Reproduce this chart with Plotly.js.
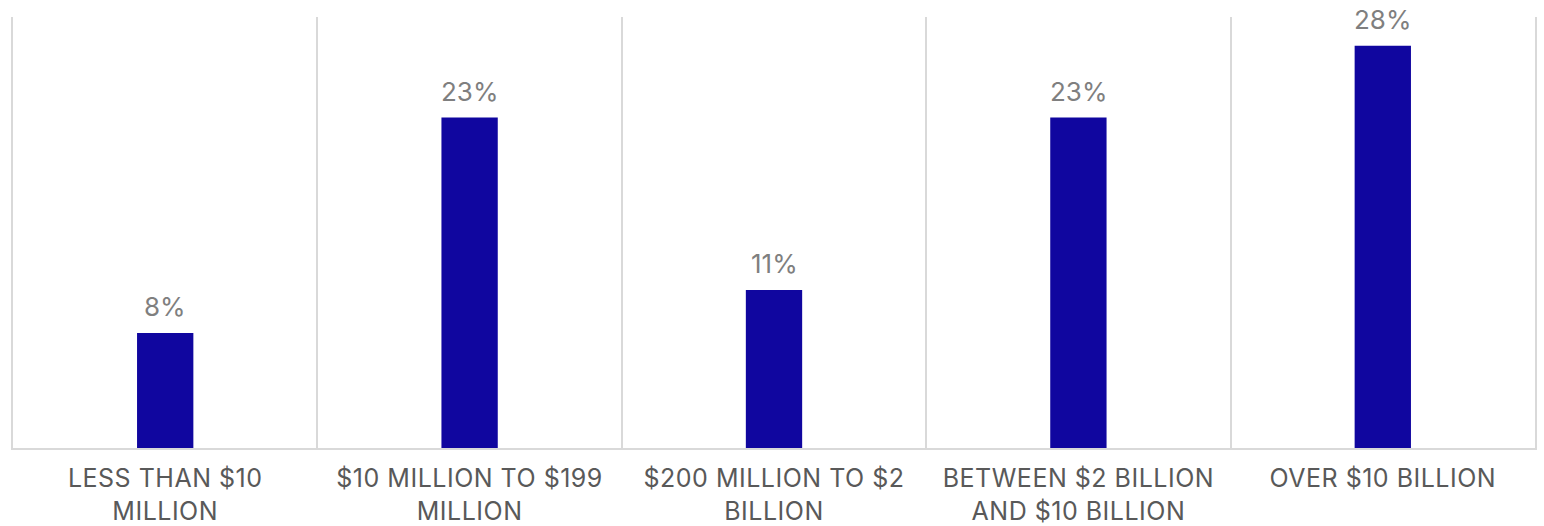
<!DOCTYPE html>
<html>
<head>
<meta charset="utf-8">
<script src="https://cdn.plot.ly/plotly-3.0.1.min.js"></script>
<style>
html,body{margin:0;padding:0;background:#fff;}
#chart{width:1544px;height:526px;}
#chart .xtick text{letter-spacing:0.5px;}
</style>
</head>
<body>
<div id="chart"></div>
<script>
const categories = [
  "LESS THAN $10<br>MILLION",
  "$10 MILLION TO $199<br>MILLION",
  "$200 MILLION TO $2<br>BILLION",
  "BETWEEN $2 BILLION<br>AND $10 BILLION",
  "OVER $10 BILLION"
];
const values = [8, 23, 11, 23, 28];
const valueLabels = values.map(v => v + "%");

const FONT = "Inter, 'Open Sans', sans-serif";

const trace = {
  type: "bar",
  x: categories,
  y: values,
  marker: {color: "#10069F"},
  hoverinfo: "none"
};

const annotations = categories.map((c, i) => ({
  x: c, y: values[i], xref: "x", yref: "y",
  text: valueLabels[i], showarrow: false,
  yanchor: "bottom", yshift: 9,
  font: {family: FONT, size: 26, color: "#7f7f7f"}
}));

const layout = {
  width: 1544, height: 526,
  margin: {l: 13, r: 9, t: 17, b: 78, pad: 0},
  paper_bgcolor: "#fff", plot_bgcolor: "#fff",
  bargap: 0.815,
  showlegend: false,
  font: {family: FONT, color: "#595959"},
  annotations: annotations,
  xaxis: {
    type: "category",
    tickson: "boundaries",
    showgrid: true, gridcolor: "#d9d9d9", gridwidth: 2,
    showline: true, linecolor: "#d9d9d9", linewidth: 2,
    ticks: "", ticklabelstandoff: 7,
    tickfont: {family: FONT, size: 25, color: "#595959"},
    fixedrange: true
  },
  yaxis: {
    range: [0, 30],
    showgrid: false, zeroline: false,
    showticklabels: false, ticks: "",
    showline: true, linecolor: "#d9d9d9", linewidth: 2, mirror: true,
    fixedrange: true
  }
};

Plotly.newPlot("chart", [trace], layout, {displayModeBar: false, staticPlot: true});
</script>
</body>
</html>
